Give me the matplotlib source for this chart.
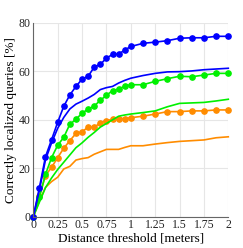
import numpy as np
import matplotlib
matplotlib.use("Agg")
import matplotlib.pyplot as plt

x = [0, 0.0625, 0.125, 0.1875, 0.25, 0.3125, 0.375, 0.4375, 0.5, 0.5625, 0.625,
     0.6875, 0.75, 0.8125, 0.875, 0.9375, 1.0, 1.125, 1.25, 1.375, 1.5, 1.625,
     1.75, 1.875, 2.0]

blue_dots = [0, 12.0, 24.8, 31.8, 39.0, 45.6, 50.3, 53.8, 56.8, 58.0, 61.8, 62.9,
             65.5, 67.0, 67.2, 68.8, 70.3, 71.6, 72.1, 72.7, 73.7, 73.9, 73.9, 74.5, 74.5]
blue_line = [0, 11.0, 23.5, 30.5, 36.5, 41.0, 44.5, 46.5, 47.7, 49.0, 50.5, 52.5,
             53.3, 53.8, 55.2, 56.3, 57.2, 58.3, 59.2, 59.8, 59.9, 60.2, 60.7, 61.0, 61.3]
green_dots = [0, 8.0, 17.5, 24.4, 29.5, 32.8, 38.2, 40.2, 42.8, 44.4, 45.7, 48.1,
              50.1, 52.1, 52.7, 53.9, 54.5, 54.5, 55.9, 57.0, 58.0, 57.8, 58.5, 59.2, 59.2]
green_line = [0, 6.0, 12.0, 16.0, 19.5, 22.5, 25.5, 28.5, 30.5, 32.8, 34.8, 37.0,
              38.5, 40.0, 41.5, 42.0, 42.4, 43.0, 43.7, 45.4, 46.8, 47.0, 47.2, 47.8, 48.5]
orange_dots = [0, 8.5, 17.0, 20.4, 24.4, 28.3, 31.4, 34.4, 35.1, 37.0, 36.9, 38.8,
               39.7, 40.2, 40.5, 40.5, 40.9, 41.5, 42.4, 43.4, 43.4, 43.7, 43.7, 44.1, 44.1]
orange_line = [0, 6.5, 12.1, 14.5, 16.3, 19.7, 20.8, 23.4, 24.0, 24.4, 25.8, 26.8,
               27.8, 27.8, 27.8, 28.6, 29.3, 29.3, 30.0, 30.6, 31.1, 31.4, 31.7, 32.6, 33.0]

xticks = [0, 0.25, 0.5, 0.75, 1, 1.25, 1.5, 1.75, 2]
xticklabels = ["0", "0.25", "0.5", "0.75", "1", "1.25", "1.5", "1.75", "2"]
yticks = [0, 20, 40, 60, 80]

plt.rcParams['font.family'] = ['Liberation Serif', 'DejaVu Serif']
fig = plt.figure(figsize=(2.43, 2.48), dpi=100)
ax = fig.add_axes([33.3/243, 1-216.7/248, 195/243, 193.7/248])

BLUE = "#0000ff"
GREEN = "#00f000"
ORANGE = "#ff8c00"
lw = 1.2
ms = 3.8
ax.plot(x, orange_line, color=ORANGE, lw=lw)
ax.plot(x, orange_dots, color=ORANGE, lw=lw, marker='o', ms=ms)
ax.plot(x, green_line, color=GREEN, lw=lw)
ax.plot(x, green_dots, color=GREEN, lw=lw, marker='o', ms=ms)
ax.plot(x, blue_line, color=BLUE, lw=lw)
ax.plot(x, blue_dots, color=BLUE, lw=lw, marker='o', ms=ms)

ax.set_xlim(0, 2)
ax.set_ylim(0, 80)
ax.set_xticks(xticks)
ax.set_xticklabels(xticklabels)
ax.set_yticks(yticks)
ax.grid(True, color="#e6e6e6", lw=0.8)
ax.set_axisbelow(True)
for s in ["top", "right"]:
    ax.spines[s].set_visible(False)
for s in ["left", "bottom"]:
    ax.spines[s].set_color("#666666")
    ax.spines[s].set_linewidth(0.8)
ax.tick_params(length=0, labelsize=8.5, colors="#222222", pad=2)
ax.set_xlabel("Distance threshold [meters]", fontsize=9.5, labelpad=1)
ax.set_ylabel("Correctly localized queries [%]", fontsize=9.5, labelpad=1)
for m in ax.lines:
    m.set_clip_on(False)
fig.savefig("out.png", dpi=100)
